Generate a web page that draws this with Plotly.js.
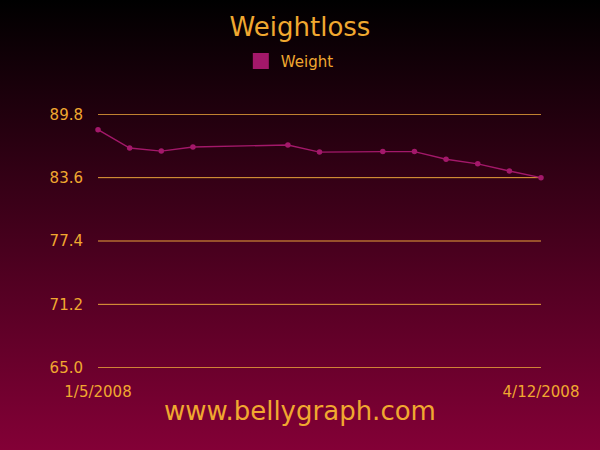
<!DOCTYPE html>
<html><head><meta charset="utf-8">
<script src="https://cdn.plot.ly/plotly-3.0.1.min.js"></script>
<style>
html,body{margin:0;padding:0;}
body{width:600px;height:450px;background:linear-gradient(to bottom,#000000 0%,#830036 100%);}
#chart{width:600px;height:450px;}
</style></head>
<body><div id="chart"></div>
<script>
const dates = ["2008-01-05","2008-01-12","2008-01-19","2008-01-26","2008-02-16","2008-02-23","2008-03-08","2008-03-15","2008-03-22","2008-03-29","2008-04-05","2008-04-12"];
const weights = [88.3,86.5,86.2,86.6,86.8,86.1,86.15,86.15,85.4,84.95,84.25,83.6];
const yTicks = [65.0,71.2,77.4,83.6,89.8];
const yTickText = ["65.0","71.2","77.4","83.6","89.8"];
const xTickVals = ["2008-01-05","2008-04-12"];
const xTickText = ["1/5/2008","4/12/2008"];
const seriesName = "Weight";

const orange = "#f0a830";
const gridOrange = "#e8a23a";
const magenta = "#a3186a";
const data = [
  {x: dates, y: weights, type:"scatter", mode:"lines+markers", name: seriesName,
   line:{color:magenta, width:1.4}, marker:{color:magenta, size:5.5}, showlegend:false, cliponaxis:false},
  {x:[null], y:[null], type:"scatter", mode:"markers", name: seriesName,
   marker:{color:magenta, size:16, symbol:"square"}, showlegend:true}
];
const gridShapes = yTicks.map(v => ({type:"line", xref:"paper", yref:"y", x0:0, x1:1, y0:v, y1:v,
  line:{color:gridOrange, width:1}, layer:"below"}));
const layout = {
  width:600, height:450,
  paper_bgcolor:"rgba(0,0,0,0)", plot_bgcolor:"rgba(0,0,0,0)",
  font:{family:"DejaVu Sans", color:orange, size:15},
  margin:{l:98, r:59, t:114, b:82},
  title:{text:"Weightloss", font:{size:26, color:orange}, x:0.5, xanchor:"center", y:0.94, yanchor:"middle"},
  showlegend:true,
  legend:{orientation:"h", x:0.433, xanchor:"center", y:1.208, yanchor:"middle", font:{size:15, color:orange}, bgcolor:"rgba(0,0,0,0)"},
  xaxis:{type:"date", range:[dates[0], dates[dates.length-1]], tickvals:xTickVals, ticktext:xTickText,
    showgrid:false, zeroline:false, showline:false, ticks:"", tickfont:{size:15, color:orange}, ticklabelstandoff:13},
  yaxis:{range:[64.97,89.83], tickvals:yTicks, ticktext:yTickText, showgrid:false,
    zeroline:false, showline:false, ticks:"", tickfont:{size:15, color:orange}, ticklabelstandoff:14},
  shapes: gridShapes,
  annotations:[{text:"www.bellygraph.com", xref:"paper", yref:"paper", x:0.456, y:-0.17, xanchor:"center", yanchor:"middle",
    showarrow:false, font:{size:26, color:orange}}]
};
Plotly.newPlot("chart", data, layout, {displayModeBar:false, staticPlot:true});
</script></body></html>
